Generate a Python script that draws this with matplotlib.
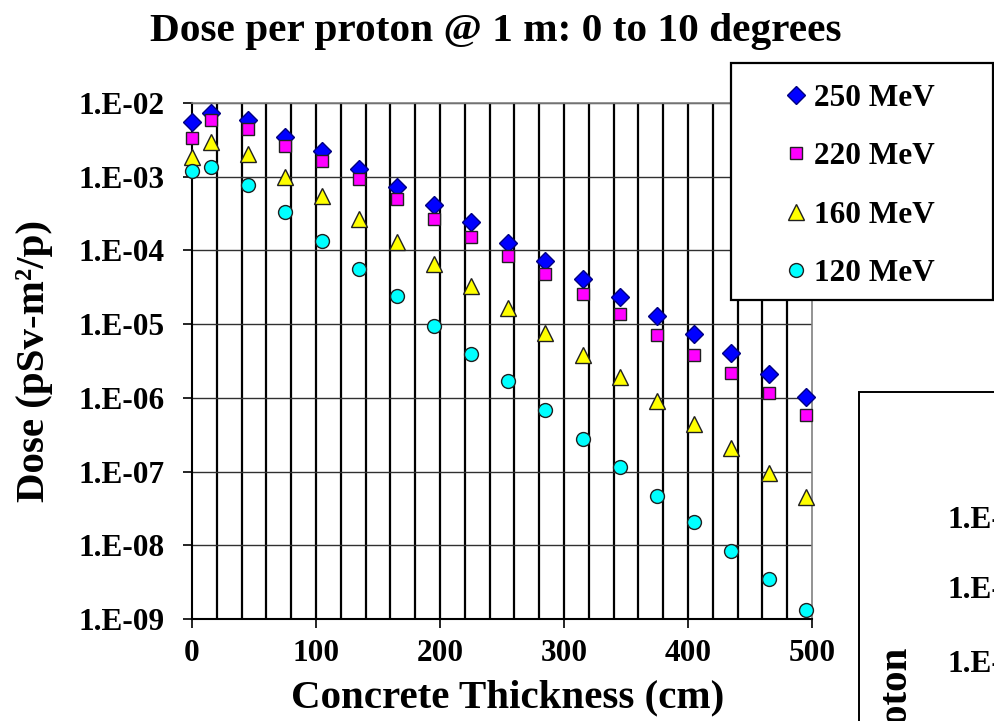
import numpy as np
import matplotlib
matplotlib.use("Agg")
import matplotlib.pyplot as plt
from matplotlib.patches import Rectangle
from matplotlib.ticker import FixedLocator, FuncFormatter, NullLocator

plt.rcParams['font.family'] = 'Liberation Serif'
plt.rcParams['font.weight'] = 'bold'

# concrete thickness (cm) and dose per proton at 1 m (pSv-m^2/p)
thickness = [0, 15, 45, 75, 105, 135, 165, 195, 225, 255, 285, 315, 345, 375, 405, 435, 465, 495]
dose_250 = [5.5e-3, 7.3e-3, 5.9e-3, 3.5e-3, 2.2e-3, 1.27e-3, 7.2e-4, 4.1e-4, 2.4e-4, 1.26e-4,
            7.2e-5, 4.1e-5, 2.3e-5, 1.29e-5, 7.3e-6, 4.1e-6, 2.1e-6, 1.03e-6]
dose_220 = [3.35e-3, 5.9e-3, 4.4e-3, 2.6e-3, 1.63e-3, 9.3e-4, 5.0e-4, 2.7e-4, 1.5e-4, 8.3e-5,
            4.8e-5, 2.6e-5, 1.38e-5, 7.1e-6, 3.8e-6, 2.2e-6, 1.17e-6, 5.8e-7]
dose_160 = [1.85e-3, 2.95e-3, 2.03e-3, 1.0e-3, 5.4e-4, 2.7e-4, 1.3e-4, 6.6e-5, 3.3e-5, 1.66e-5,
            7.6e-6, 3.8e-6, 1.9e-6, 9.0e-7, 4.4e-7, 2.07e-7, 9.6e-8, 4.5e-8]
dose_120 = [1.2e-3, 1.35e-3, 7.7e-4, 3.3e-4, 1.35e-4, 5.6e-5, 2.4e-5, 9.3e-6, 3.9e-6, 1.7e-6,
            6.8e-7, 2.75e-7, 1.14e-7, 4.7e-8, 2.04e-8, 8.4e-9, 3.5e-9, 1.32e-9]

series_labels = ['250 MeV', '220 MeV', '160 MeV', '120 MeV']
x_ticks = [0, 100, 200, 300, 400, 500]
y_decades = [-2, -3, -4, -5, -6, -7, -8, -9]
side_labels = ['1.E-', '1.E-', '1.E-']

W, H = 994, 721
fig = plt.figure(figsize=(W / 100, H / 100), dpi=100)


def fx(px):
    return px / W


def fy(py):
    return 1 - py / H


ax = fig.add_axes([fx(192), fy(619), fx(812) - fx(192), fy(103) - fy(619)])

styles = [
    dict(marker='D', ms=9.5, mfc='#0000FF', mec='#000080'),
    dict(marker='s', ms=8, mfc='#FF00FF', mec='#202020'),
    dict(marker='^', ms=11, mfc='#FFFF00', mec='#202020'),
    dict(marker='o', ms=10, mfc='#00FFFF', mec='#202020'),
]
handles = []
for vals, lab, st in zip([dose_250, dose_220, dose_160, dose_120], series_labels, styles):
    h, = ax.plot(thickness, vals, ls='none', mew=1.0, clip_on=False, zorder=5, label=lab, **st)
    handles.append(h)

ax.set_yscale('log')
ax.set_xlim(0, 500)
ax.set_ylim(1e-9, 1e-2)

ax.yaxis.set_major_locator(FixedLocator([10.0 ** e for e in y_decades]))
ax.yaxis.set_minor_locator(NullLocator())
ax.yaxis.set_major_formatter(FuncFormatter(lambda v, p: '1.E-%02d' % round(-np.log10(v))))
ax.xaxis.set_major_locator(FixedLocator(x_ticks))
ax.xaxis.set_minor_locator(FixedLocator(np.arange(20, 500, 20)))
ax.xaxis.remove_overlapping_locs = False

ax.tick_params(axis='both', which='major', labelsize=22.5, length=6.5, width=1.2, color='black')
ax.tick_params(axis='y', which='major', pad=13)
ax.tick_params(axis='x', which='major', pad=8)
ax.tick_params(axis='x', which='minor', length=0)

# thick vertical lines every 20 cm, thin horizontal lines per decade
ax.xaxis.grid(True, which='minor', color='black', lw=1.6)
ax.yaxis.grid(True, which='major', color='#303030', lw=1.0)
ax.set_axisbelow(True)

for side in ['left', 'bottom']:
    ax.spines[side].set_color('black')
    ax.spines[side].set_linewidth(1.5)
for side in ['top', 'right']:
    ax.spines[side].set_color('#808080')
    ax.spines[side].set_linewidth(1.2)

fig.text(fx(496), fy(41), 'Dose per proton @ 1 m: 0 to 10 degrees', ha='center', va='baseline',
         fontsize=29.7, fontweight='bold')
fig.text(fx(508), fy(707), 'Concrete Thickness (cm)', ha='center', va='baseline',
         fontsize=29.5, fontweight='bold')
fig.text(fx(35), fy(361), 'Dose (pSv-m²/p)', ha='center', va='center', rotation=90,
         fontsize=29.5, fontweight='bold')

# legend box over the top-right of the plot
fig.add_artist(Rectangle((fx(731), fy(300)), fx(993) - fx(731), fy(63) - fy(300),
                         transform=fig.transFigure, facecolor='white', edgecolor='black',
                         lw=1.6, zorder=4))
leg = fig.legend(handles=handles, loc='upper left', bbox_to_anchor=(fx(787), fy(84)),
                 frameon=False, fontsize=22.5, handlelength=0.6, handletextpad=0.25,
                 borderpad=0, borderaxespad=0, labelspacing=0.94, numpoints=1)
leg.set_zorder(6)
for t in leg.get_texts():
    t.set_fontweight('bold')

# neighbouring chart at the lower right edge
fig.add_artist(Rectangle((fx(859), fy(730)), 0.2, fy(392) - fy(730),
                         transform=fig.transFigure, facecolor='white', edgecolor='black',
                         lw=1.4, zorder=4))
for lab, py in zip(side_labels, [520, 591, 664]):
    fig.text(fx(948), fy(py), lab, ha='left', va='center', fontsize=22.5,
             fontweight='bold', zorder=6)
fig.text(fx(898), fy(648), 'Dose per proton', ha='center', va='top', rotation=90,
         fontsize=29.5, fontweight='bold', zorder=6)

fig.savefig('out.png', dpi=100)
